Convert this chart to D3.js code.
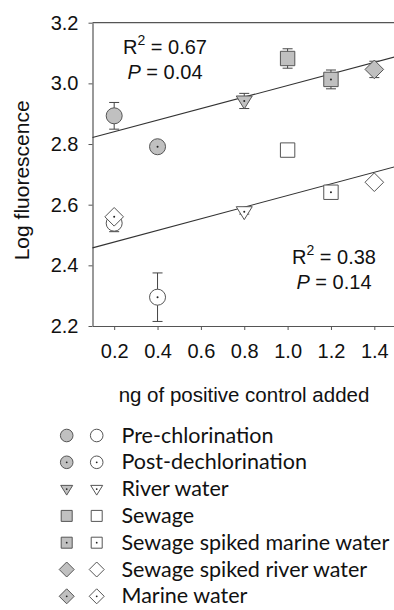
<!DOCTYPE html>
<html>
<head>
<meta charset="utf-8">
<script src="https://cdn.jsdelivr.net/npm/d3@7"></script>
<style>
  body { margin: 0; background: #fff; }
  svg { display: block; }
</style>
</head>
<body>
<div id="chart"></div>
<script>
// sample types, one marker shape each
const categories = ["Pre-chlorination", "Post-dechlorination", "River water", "Sewage",
  "Sewage spiked marine water", "Sewage spiked river water", "Marine water"];
const shapes = ["circle", "circle", "triangle", "square", "square", "diamond", "diamond"];
const dotted = [false, true, true, false, true, false, true];
const ngAdded = [0.2, 0.4, 0.8, 1.0, 1.2, 1.4, 0.2];

// grey (filled) series, upper line
const filledMean = [2.893, 2.791, 2.942, 3.082, 3.013, 3.046, null];
const filledErr = [0.044, 0.004, 0.025, 0.032, 0.031, 0.027, null];
// white (open) series, lower line
const openMean = [2.539, 2.295, 2.577, 2.780, 2.641, 2.674, 2.560];
const openErr = [0.028, 0.080, 0.008, 0.004, 0.008, 0.006, 0.004];

const xTicks = [0.2, 0.4, 0.6, 0.8, 1.0, 1.2, 1.4];
const yTicks = [2.2, 2.4, 2.6, 2.8, 3.0, 3.2];
const statsFilled = ["0.67", "0.04"];
const statsOpen = ["0.38", "0.14"];

const width = 394, height = 610;
const svg = d3.select("#chart").append("svg")
  .attr("width", width).attr("height", height);

const x = d3.scaleLinear().domain([0.1, 1.5]).range([92.5, 396]);
const y = d3.scaleLinear().domain([2.2, 3.2]).range([326, 22.7]);

const axisColor = "#555";
const tickFont = "'Liberation Sans', Arial, sans-serif";

function shapePath(shape, r) {
  const p = d3.path();
  if (shape === "circle") {
    p.moveTo(r, 0); p.arc(0, 0, r, 0, 2 * Math.PI);
  } else if (shape === "square") {
    p.rect(-r, -r, 2 * r, 2 * r);
  } else if (shape === "diamond") {
    p.moveTo(0, -r); p.lineTo(r, 0); p.lineTo(0, r); p.lineTo(-r, 0); p.closePath();
  } else if (shape === "triangle") {
    p.moveTo(-r, -r * 0.62); p.lineTo(r, -r * 0.62); p.lineTo(0, r); p.closePath();
  }
  return p.toString();
}
const plotSize = { circle: 8, square: 7.2, diamond: 9.3, triangle: 8 };
const legendSize = { circle: 6.3, square: 5.5, diamond: 7.5, triangle: 6 };

/* axes */
const gx = svg.append("g").attr("transform", `translate(0,${y(2.2)})`)
  .call(d3.axisBottom(x).tickValues(xTicks).tickSize(4).tickSizeOuter(0).tickPadding(14)
    .tickFormat(d3.format(".1f")));
const gy = svg.append("g").attr("transform", `translate(${x(0.1)},0)`)
  .call(d3.axisLeft(y).tickValues(yTicks).tickSize(4).tickSizeOuter(0).tickPadding(10)
    .tickFormat(d3.format(".1f")));
[gx, gy].forEach(g => {
  g.select(".domain").attr("stroke", axisColor).attr("stroke-width", 1.2);
  g.selectAll(".tick line").attr("stroke", axisColor);
  g.selectAll(".tick text").attr("fill", "#111")
    .style("font-family", tickFont).style("font-size", "20px");
});
// frame line along the top
svg.append("line")
  .attr("x1", x(0.1)).attr("x2", width).attr("y1", y(3.2)).attr("y2", y(3.2))
  .attr("stroke", axisColor).attr("stroke-width", 1.2);

svg.append("text")
  .attr("transform", `translate(29,${(y(2.2) + y(3.2)) / 2 + 6}) rotate(-90)`)
  .attr("text-anchor", "middle")
  .style("font-family", tickFont).style("font-size", "21px").attr("fill", "#111")
  .text("Log fluorescence");
svg.append("text")
  .attr("x", 244).attr("y", 402).attr("text-anchor", "middle")
  .style("font-family", tickFont).style("font-size", "20.5px").attr("fill", "#111")
  .text("ng of positive control added");

/* regression lines */
function fit(xs, ys) {
  const pts = xs.map((v, i) => [v, ys[i]]).filter(d => d[1] != null);
  const mx = d3.mean(pts, d => d[0]), my = d3.mean(pts, d => d[1]);
  const b = d3.sum(pts, d => (d[0] - mx) * (d[1] - my)) / d3.sum(pts, d => (d[0] - mx) ** 2);
  return xv => my + b * (xv - mx);
}
const plot = svg.append("g");
[filledMean, openMean].forEach(series => {
  const f = fit(ngAdded, series);
  plot.append("line")
    .attr("x1", x(0.1)).attr("y1", y(f(0.1)))
    .attr("x2", x(1.5)).attr("y2", y(f(1.5)))
    .attr("stroke", "#333").attr("stroke-width", 1.1);
});

/* points with error bars */
function drawSeries(means, errs, fill) {
  means.forEach((m, i) => {
    if (m == null) return;
    const cx = x(ngAdded[i]), cy = y(m);
    const g = plot.append("g");
    if (errs[i] > 0.006) {
      [m - errs[i], m + errs[i]].forEach(v => {
        g.append("line").attr("x1", cx).attr("x2", cx).attr("y1", cy).attr("y2", y(v))
          .attr("stroke", "#444").attr("stroke-width", 1);
        g.append("line").attr("x1", cx - 5).attr("x2", cx + 5).attr("y1", y(v)).attr("y2", y(v))
          .attr("stroke", "#444").attr("stroke-width", 1);
      });
    }
    g.append("path").attr("d", shapePath(shapes[i], plotSize[shapes[i]]))
      .attr("transform", `translate(${cx},${cy})`)
      .attr("fill", fill).attr("stroke", "#555").attr("stroke-width", 1);
    if (dotted[i]) {
      g.append("circle").attr("cx", cx).attr("cy", cy).attr("r", 1).attr("fill", "#222");
    }
  });
}
drawSeries(openMean, openErr, "#fff");
drawSeries(filledMean, filledErr, "#c0c0c0");

/* statistics text */
function stats(cx, yTop, vals) {
  const t1 = svg.append("text").attr("x", cx).attr("y", yTop).attr("text-anchor", "middle")
    .style("font-family", tickFont).style("font-size", "20px").attr("fill", "#111");
  t1.append("tspan").text("R");
  t1.append("tspan").attr("dy", -9).style("font-size", "14px").text("2");
  t1.append("tspan").attr("dy", 9).text(" = " + vals[0]);
  const t2 = svg.append("text").attr("x", cx).attr("y", yTop + 25).attr("text-anchor", "middle")
    .style("font-family", tickFont).style("font-size", "20px").attr("fill", "#111");
  t2.append("tspan").style("font-style", "italic").text("P");
  t2.append("tspan").text(" = " + vals[1]);
}
stats(165, 53.5, statsFilled);
stats(334, 263.5, statsOpen);

/* legend */
const legend = svg.append("g");
categories.forEach((c, i) => {
  const ly = 435.5 + i * 26.8;
  ["#c0c0c0", "#fff"].forEach((fill, k) => {
    const lx = k === 0 ? 66.7 : 96.7;
    legend.append("path").attr("d", shapePath(shapes[i], legendSize[shapes[i]]))
      .attr("transform", `translate(${lx},${ly})`)
      .attr("fill", fill).attr("stroke", "#555").attr("stroke-width", 1);
    if (dotted[i]) legend.append("circle").attr("cx", lx).attr("cy", ly).attr("r", 0.9).attr("fill", "#222");
  });
  legend.append("text").attr("x", 121.5).attr("y", ly + 7)
    .style("font-family", "Lato, 'Open Sans', sans-serif").style("font-size", "21.5px").attr("fill", "#111")
    .text(c);
});
</script>
</body>
</html>
